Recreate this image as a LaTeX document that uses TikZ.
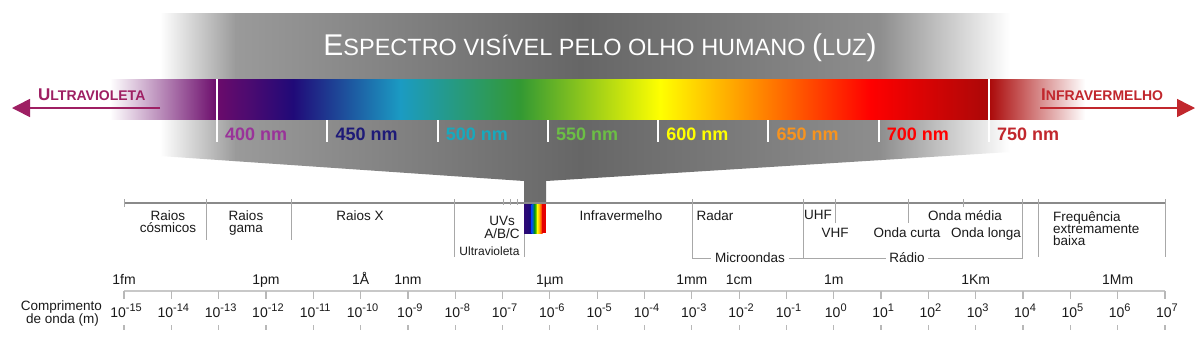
\documentclass[tikz,border=0pt]{standalone}
\usepackage{fontspec}
\setmainfont{Liberation Sans}
\usetikzlibrary{arrows.meta}
\definecolor{g1}{HTML}{9A9A9A}
\definecolor{g2}{HTML}{666666}
\definecolor{g3}{HTML}{8E8E8E}
\definecolor{s0}{HTML}{6B0B6B}
\definecolor{s1}{HTML}{200A78}
\definecolor{s2}{HTML}{1B9BC3}
\definecolor{s3}{HTML}{339933}
\definecolor{s4}{HTML}{FFFF00}
\definecolor{s5}{HTML}{FF5500}
\definecolor{s6}{HTML}{FF0000}
\definecolor{s7}{HTML}{AA0808}
\definecolor{c400}{HTML}{993399}
\definecolor{c450}{HTML}{1E1A78}
\definecolor{c500}{HTML}{17A9BD}
\definecolor{c550}{HTML}{6CBE45}
\definecolor{c600}{HTML}{FFFF00}
\definecolor{c650}{HTML}{F7931E}
\definecolor{c700}{HTML}{FF0000}
\definecolor{c750}{HTML}{C1272D}
\definecolor{uvc}{HTML}{9E1F63}
\definecolor{irc}{HTML}{C1272D}
\definecolor{txt}{HTML}{1A1A1A}
\definecolor{axisdark}{HTML}{8A8A8A}
\definecolor{divc}{HTML}{A8A8A8}
\definecolor{axislight}{HTML}{C8C8C8}
\definecolor{tickc}{HTML}{B8B8B8}
\begin{document}
\begin{tikzpicture}[x=1pt,y=-1pt,
  lbl/.style={font=\fontsize{13.5}{13.5}\selectfont, text=txt, inner sep=0pt, anchor=base},
  nmlbl/.style={font=\bfseries\fontsize{18}{18}\selectfont, inner sep=0pt, anchor=base west},
  divline/.style={draw=divc, line width=1pt},
  whiteline/.style={draw=white, line width=2pt},
  scaletick/.style={draw=tickc, line width=1.2pt}]
\fill[white] (0,0) rectangle (1200,360);
\useasboundingbox (0,0) rectangle (1200,360);
% gray funnel
\begin{scope}
\clip (160,13) -- (1010,13) -- (1010,152) -- (546,181) -- (546,203.5) -- (524,203.5) -- (524,181) -- (160,156) -- cycle;
\shade[left color=white, right color=g1] (160,13) rectangle (236,204);
\shade[left color=g1, right color=g2] (235,13) rectangle (581,204);
\shade[left color=g2, right color=g3] (580,13) rectangle (881,204);
\shade[left color=g3, right color=white] (880,13) rectangle (1010,204);
\end{scope}
% title
\node[text=white, inner sep=0pt, anchor=base] (title) at (600,55) {{\fontsize{30}{30}\selectfont E}{\fontsize{23.5}{23.5}\selectfont SPECTRO VISÍVEL PELO OLHO HUMANO }{\fontsize{30}{30}\selectfont (}{\fontsize{23.5}{23.5}\selectfont LUZ}{\fontsize{30}{30}\selectfont )}};
% spectrum bar
\shade[left color=white, right color=s0] (110,79) rectangle (217.5,119);
\shade[left color=s0, right color=s1] (217,79) rectangle (293.5,119);
\shade[left color=s1, right color=s2] (293,79) rectangle (400.5,119);
\shade[left color=s2, right color=s3] (400,79) rectangle (520.5,119);
\shade[left color=s3, right color=s4] (520,79) rectangle (660.5,119);
\shade[left color=s4, right color=s5] (660,79) rectangle (800.5,119);
\shade[left color=s5, right color=s6] (800,79) rectangle (870.5,119);
\shade[left color=s6, right color=s7] (870,79) rectangle (989.5,119);
\shade[left color=s7, right color=white] (989,79) rectangle (1085,119);
% white ticks
\draw[whiteline] (217,79) -- (217,142);
\draw[whiteline] (989,79) -- (989,142);
\foreach \x in {327.3,437.6,547.9,658.1,768.4,878.7}
  \draw[whiteline] (\x,120) -- (\x,142);
\node[nmlbl, text=c400] (nm400) at (225,140) {400 nm};
\node[nmlbl, text=c450] (nm450) at (335.3,140) {450 nm};
\node[nmlbl, text=c500] (nm500) at (445.6,140) {500 nm};
\node[nmlbl, text=c550] (nm550) at (555.9,140) {550 nm};
\node[nmlbl, text=c600] (nm600) at (666.1,140) {600 nm};
\node[nmlbl, text=c650] (nm650) at (776.4,140) {650 nm};
\node[nmlbl, text=c700] (nm700) at (886.7,140) {700 nm};
\node[nmlbl, text=c750] (nm750) at (997,140) {750 nm};
% UV / IR arrows
\node[text=uvc, inner sep=0pt, anchor=base west, font=\bfseries] (uv) at (38,100) {{\fontsize{17}{17}\selectfont U}{\fontsize{14}{14}\selectfont LTRAVIOLETA}};
\node[text=irc, inner sep=0pt, anchor=base west, font=\bfseries] (ir) at (1041,100) {{\fontsize{17}{17}\selectfont I}{\fontsize{14}{14}\selectfont NFRAVERMELHO}};
\coordinate (uvS) at (160,108);
\coordinate (uvE) at (12,108);
\coordinate (irS) at (1040,108);
\coordinate (irE) at (1195,108);
\draw[uvc, line width=1.6pt, -{Triangle[length=18pt,width=18pt]}] (uvS) -- (uvE);
\draw[irc, line width=1.6pt, -{Triangle[length=18pt,width=18pt]}] (irS) -- (irE);
% middle axis
\draw[axisdark, line width=2pt] (124,203) -- (1165,203);
\draw[divline] (124,199) -- (124,207);
\draw[divline] (206,199) -- (206,240);
\draw[divline] (291,199) -- (291,240);
\draw[divline] (454,199) -- (454,257);
\foreach \x in {503,510,517} \draw[divline] (\x,199) -- (\x,205);
\draw[divline] (524,233) -- (524,257);
\draw[divline] (835,199) -- (835,223);
\draw[divline] (908,199) -- (908,223);
\draw[divline] (963,199) -- (963,207);
\draw[divline] (1038,199) -- (1038,257);
\draw[divline] (1165,199) -- (1165,257);
% mini spectrum
\shade[left color=s1!80!s0, right color=s1] (524,204) rectangle (529.5,233);
\shade[left color=s1, right color=blue!70!black] (529,204) rectangle (532,233);
\shade[left color=blue!70!cyan, right color=green!60!black] (531.5,204) rectangle (535,233);
\shade[left color=green!60!black, right color=yellow] (534.5,204) rectangle (537.5,233);
\shade[left color=yellow, right color=orange] (537,204) rectangle (540.5,233);
\shade[left color=orange, right color=red] (540,204) rectangle (542.5,233);
\fill[red!90!black] (542,204) rectangle (546,233);
% middle labels
\node[lbl] (rc1) at (168,220) {Raios};
\node[lbl] (rc2) at (168,232) {cósmicos};
\node[lbl] (rg1) at (246,220) {Raios};
\node[lbl] (rg2) at (246,232) {gama};
\node[lbl] (rx) at (360,220) {Raios X};
\node[lbl] (uvs1) at (502,225) {UVs};
\node[lbl] (uvs2) at (502,238) {A/B/C};
\node[lbl, font=\fontsize{12}{12}\selectfont] (uvl) at (489.5,255) {Ultravioleta};
\node[lbl] (irl) at (621,220) {Infravermelho};
\node[lbl] (radar) at (715,220) {Radar};
\node[lbl] (uhf) at (818,219) {UHF};
\node[lbl] (vhf) at (835,237) {VHF};
\node[lbl] (ocurta) at (907,237) {Onda curta};
\node[lbl] (omedia) at (965,220) {Onda média};
\node[lbl] (olonga) at (986,237) {Onda longa};
\node[lbl, anchor=base west] (f1) at (1053,221) {Frequência};
\node[lbl, anchor=base west] (f2) at (1053,233) {extremamente};
\node[lbl, anchor=base west] (f3) at (1053,245) {baixa};
\node[lbl, anchor=center, inner xsep=3.5pt] (mw) at (750,258) {Microondas};
\node[lbl, anchor=center, inner xsep=3.5pt] (rad) at (907,258) {Rádio};
\draw[divline] (692,199) |- (mw.west);
\draw[divline] (mw.east) -| (803,199);
\draw[divline] (rad.west) -| (803,240);
\draw[divline] (rad.east) -| (1022,199);
% bottom scale
\draw[axislight, line width=2pt] (124,291) -- (1165,291);
\foreach \e [count=\i from 0] in {-15,-14,...,7} {
  \pgfmathsetmacro{\xx}{124+\i*47.318}
  \draw[scaletick] (\xx,291) -- (\xx,299);
  \draw[scaletick] (\xx,325) -- (\xx,330);
  \node[lbl, font=\fontsize{14}{14}\selectfont] (e\i) at (\xx+2,317.5) {10\raisebox{6.5pt}{\fontsize{11}{11}\selectfont\e}};
}
\foreach \i/\t in {0/1fm,3/1pm,5/1Å,6/1nm,9/1µm,12/1mm,13/1cm,15/1m,18/1Km,21/1Mm} {
  \pgfmathsetmacro{\xx}{124+\i*47.318}
  \node[lbl, font=\fontsize{14}{14}\selectfont] (u\i) at (\xx,284) {\t};
}
\node[lbl] (cw1) at (61.5,310) {Comprimento};
\node[lbl] (cw2) at (62.5,323) {de onda (m)};
\end{tikzpicture}
\end{document}
